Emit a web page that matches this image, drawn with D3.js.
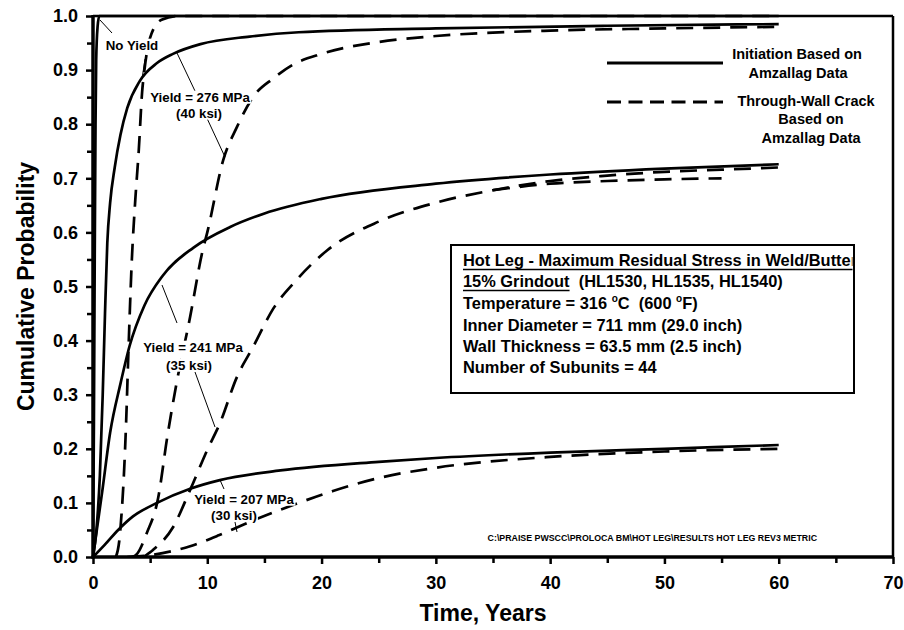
<!DOCTYPE html>
<html><head><meta charset="utf-8">
<script src="https://cdn.jsdelivr.net/npm/d3@7"></script>
<style>
body{margin:0;background:#fff;}
svg{font-family:"Liberation Sans",Arial,sans-serif;font-weight:bold;}
</style></head>
<body><svg id="c" width="904" height="630"></svg>
<script>
// ---- data: [time (years), cumulative probability] ----
const initNoYield = [[0,0],[0.08,0.25],[0.15,0.55],[0.22,0.8],[0.28,0.92],[0.4,0.98],[0.55,1.0],[60,1.0]];
const twcNoYield  = [[2.0,0],[2.3,0.03],[2.5,0.08],[2.7,0.15],[2.9,0.25],[3.1,0.38],[3.4,0.55],[3.7,0.66],[4.0,0.75],[4.3,0.86],[4.5,0.9],[5.0,0.96],[6.0,0.993],[7.5,1.0],[60,1.0]];
const init276 = [[0,0],[0.3,0.05],[0.6,0.15],[0.85,0.3],[1.05,0.45],[1.25,0.58],[1.5,0.655],[1.9,0.72],[2.4,0.78],[3.0,0.83],[4.1,0.88],[5.6,0.913],[7,0.93],[9.4,0.948],[13.7,0.962],[18,0.97],[30,0.977],[45,0.982],[60,0.985]];
const twc276  = [[3.5,0],[3.9,0.007],[4.7,0.044],[5.7,0.109],[6.5,0.222],[7.3,0.32],[8.5,0.444],[9.6,0.567],[10,0.6],[11.4,0.734],[12.6,0.795],[14,0.85],[15.8,0.885],[17.5,0.91],[20,0.93],[25,0.952],[30,0.963],[40,0.973],[50,0.977],[60,0.98]];
const init241 = [[0,0],[0.4,0.06],[0.8,0.12],[1.5,0.23],[2.4,0.32],[3.2,0.39],[4.5,0.465],[6.1,0.52],[8.8,0.572],[12,0.61],[15,0.635],[20,0.662],[30,0.69],[40,0.707],[50,0.718],[60,0.726]];
const twc241  = [[4.4,0],[5.25,0.013],[7,0.055],[8.5,0.124],[10,0.198],[11.1,0.247],[12.6,0.333],[14,0.388],[15.8,0.46],[17.8,0.512],[20.5,0.567],[25,0.62],[30,0.655],[35,0.678],[40,0.695],[45,0.705],[50,0.712],[55,0.716],[60,0.72]];
const twc241b = [[35,0.678],[40,0.69],[45,0.695],[50,0.698],[55,0.70]];
const init207 = [[0,0],[1,0.022],[2.2,0.05],[3.5,0.075],[5.6,0.1],[8.5,0.126],[11.1,0.142],[16.4,0.16],[25,0.176],[30,0.183],[40,0.193],[50,0.2],[60,0.207]];
const twc207  = [[3,0],[5.2,0.004],[8.5,0.02],[11,0.04],[13.5,0.063],[17.5,0.096],[21,0.122],[25,0.146],[30,0.165],[40,0.185],[50,0.195],[60,0.2]];

const xTicks = [0,10,20,30,40,50,60,70];
const xMinor = [5,15,25,35,45,55,65];
const yTicks = [0,0.1,0.2,0.3,0.4,0.5,0.6,0.7,0.8,0.9,1.0];
const yMinor = [0.05,0.15,0.25,0.35,0.45,0.55,0.65,0.75,0.85,0.95];

const boxLines = ["Temperature = 316 ", "Inner Diameter = 711 mm (29.0 inch)", "Wall Thickness = 63.5 mm (2.5 inch)", "Number of Subunits = 44"];

// ---- drawing ----
const svg = d3.select("#c");
const L=93,R=893,T=16,B=557;
const x = d3.scaleLinear().domain([0,70]).range([L,R]);
const y = d3.scaleLinear().domain([0,1]).range([B,T]);

svg.append("clipPath").attr("id","plotclip").append("rect").attr("x",L).attr("y",T-3).attr("width",R-L).attr("height",B-T+3);

const line = d3.line().x(d=>x(d[0])).y(d=>y(d[1])).curve(d3.curveMonotoneX);
const curves = svg.append("g").attr("clip-path","url(#plotclip)");
const solid = [initNoYield, init276, init241, init207];
const dashed = [twcNoYield, twc276, twc241, twc241b, twc207];
solid.forEach(s=>curves.append("path").attr("d",line(s)).attr("fill","none").attr("stroke","#000").attr("stroke-width",2.7));
dashed.forEach(s=>curves.append("path").attr("d",line(s)).attr("fill","none").attr("stroke","#000").attr("stroke-width",2.7).attr("stroke-dasharray","17,10"));

// frame
svg.append("line").attr("x1",L).attr("x2",R).attr("y1",T).attr("y2",T).attr("stroke","#000").attr("stroke-width",2.5);
svg.append("line").attr("x1",R).attr("x2",R).attr("y1",T).attr("y2",B).attr("stroke","#000").attr("stroke-width",2.5);

// axes
const ax = svg.append("g").attr("transform",`translate(0,${B})`).call(d3.axisBottom(x).tickValues(xTicks).tickSize(7).tickPadding(12).tickFormat(d3.format("d")));
const axm = svg.append("g").attr("transform",`translate(0,${B})`).call(d3.axisBottom(x).tickValues(xMinor).tickSize(6).tickFormat(""));
const ay = svg.append("g").attr("transform",`translate(${L},0)`).call(d3.axisLeft(y).tickValues(yTicks).tickSize(7).tickPadding(8).tickFormat(d3.format(".1f")));
const aym = svg.append("g").attr("transform",`translate(${L},0)`).call(d3.axisLeft(y).tickValues(yMinor).tickSize(6).tickFormat(""));
[ax,axm,ay,aym].forEach(g=>{
  g.select(".domain").remove();
  g.selectAll(".tick line").attr("stroke","#000").attr("stroke-width",2.5);
  g.selectAll("text").attr("fill","#000").style("font-size","18px").style("font-weight","bold").attr("font-family",null);
});
svg.append("line").attr("x1",L).attr("x2",L).attr("y1",T-1).attr("y2",B+1.5).attr("stroke","#000").attr("stroke-width",3.5);
svg.append("line").attr("x1",L-1.5).attr("x2",R+1).attr("y1",B).attr("y2",B).attr("stroke","#000").attr("stroke-width",3.5);

// axis titles
svg.append("text").attr("x",483).attr("y",621).attr("text-anchor","middle").style("font-size","23px").text("Time, Years");
svg.append("text").attr("transform",`translate(34,${(T+B)/2}) rotate(-90)`).attr("text-anchor","middle").style("font-size","23px").text("Cumulative Probability");

// leader lines
const leaders = [
  [[100,20],[112,33]], [[145,59],[142,79]],
  [[177,53],[195,91]], [[205,114],[225,157]],
  [[162,285],[177,323]], [[195,372],[215,427]],
  [[220,480],[224,489]], [[235,522],[237,532]]
];
leaders.forEach(l=>svg.append("line").attr("x1",l[0][0]).attr("y1",l[0][1]).attr("x2",l[1][0]).attr("y2",l[1][1]).attr("stroke","#000").attr("stroke-width",1));

// curve labels with white backgrounds
const labels = [
  {t:"No Yield", x:132, y:45},
  {t:"Yield = 276 MPa", x:200, y:97},
  {t:"(40 ksi)", x:199, y:113},
  {t:"Yield = 241 MPa", x:193, y:347},
  {t:"(35 ksi)", x:189, y:365},
  {t:"Yield = 207 MPa", x:244, y:499},
  {t:"(30 ksi)", x:234, y:515}
];
labels.forEach(d=>{
  const g = svg.append("g");
  const r = g.append("rect").attr("fill","#fff");
  const t = g.append("text").attr("x",d.x).attr("y",d.y+4.7).attr("text-anchor","middle").style("font-size","13.3px").text(d.t);
  const bb = t.node().getBBox();
  r.attr("x",bb.x-1).attr("y",bb.y+1).attr("width",bb.width+2).attr("height",bb.height-2);
});

// legend
svg.append("line").attr("x1",607).attr("x2",723).attr("y1",63).attr("y2",63).attr("stroke","#000").attr("stroke-width",3.2);
svg.append("line").attr("x1",607).attr("x2",723).attr("y1",102).attr("y2",102).attr("stroke","#000").attr("stroke-width",3.2).attr("stroke-dasharray","14,7.5");
const legTxt = [["Initiation Based on",797,54],["Amzallag Data",798,73],["Through-Wall Crack",806,101],["Based on",811,119],["Amzallag Data",811,138]];
legTxt.forEach(d=>svg.append("text").attr("x",d[1]).attr("y",d[2]+5).attr("text-anchor","middle").style("font-size","14.5px").text(d[0]));

// info box
const bx=451, by=245, bw=403, bh=148;
svg.append("clipPath").attr("id","boxclip").append("rect").attr("x",bx).attr("y",by).attr("width",bw-1.5).attr("height",bh);
svg.append("rect").attr("x",bx).attr("y",by).attr("width",bw).attr("height",bh).attr("fill","#fff").attr("stroke","#000").attr("stroke-width",2);
const bg = svg.append("g").attr("clip-path","url(#boxclip)").style("font-size","16.4px");
const tx = 463;
const t1 = bg.append("text").attr("x",tx).attr("y",266).text("Hot Leg - Maximum Residual Stress in Weld/Butter");
bg.append("line").attr("x1",tx).attr("x2",tx+t1.node().getComputedTextLength()).attr("y1",269.5).attr("y2",269.5).attr("stroke","#000").attr("stroke-width",1.6);
const t2 = bg.append("text").attr("x",tx).attr("y",287);
t2.append("tspan").text("15% Grindout");
const w2 = t2.node().getComputedTextLength();
t2.append("tspan").text("\u00a0\u00a0(HL1530, HL1535, HL1540)");
bg.append("line").attr("x1",tx).attr("x2",tx+w2).attr("y1",290.5).attr("y2",290.5).attr("stroke","#000").attr("stroke-width",1.6);
const t3 = bg.append("text").attr("x",tx).attr("y",309);
t3.append("tspan").text(boxLines[0]);
t3.append("tspan").attr("dy",-7).style("font-size","10px").text("o");
t3.append("tspan").attr("dy",7).text("C\u00a0\u00a0(600 ");
t3.append("tspan").attr("dy",-7).style("font-size","10px").text("o");
t3.append("tspan").attr("dy",7).text("F)");
bg.append("text").attr("x",tx).attr("y",331).text(boxLines[1]);
bg.append("text").attr("x",tx).attr("y",352).text(boxLines[2]);
bg.append("text").attr("x",tx).attr("y",373).text(boxLines[3]);

// file path
svg.append("text").attr("x",817).attr("y",541).attr("text-anchor","end").style("font-size","8.8px").text("C:\\PRAISE PWSCC\\PROLOCA BM\\HOT LEG\\RESULTS HOT LEG REV3 METRIC");
</script></body></html>
